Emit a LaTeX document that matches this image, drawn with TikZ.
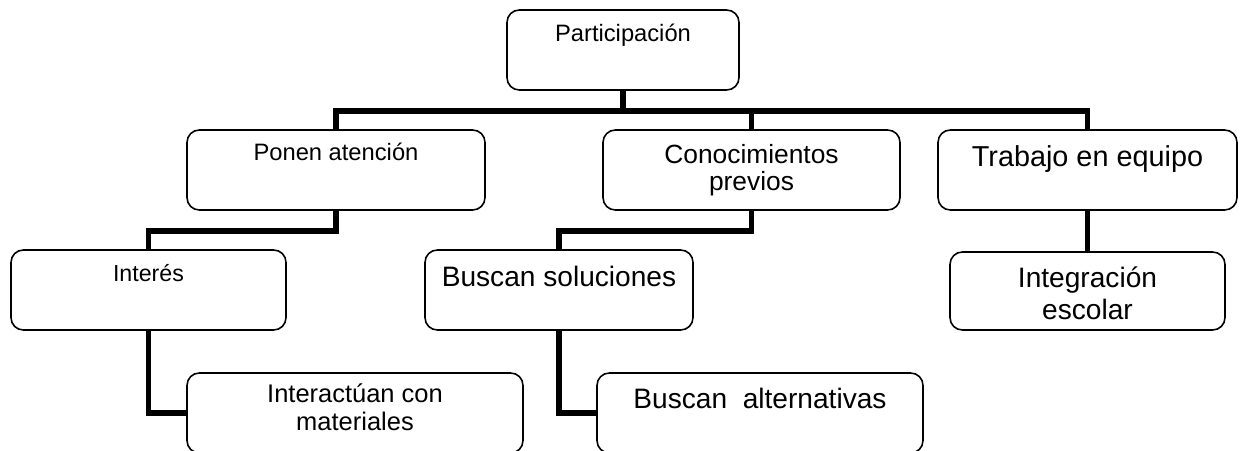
\documentclass[tikz,border=0pt]{standalone}
\usepackage{fontspec}
\setmainfont{Liberation Sans}

\begin{document}
\begin{tikzpicture}[
  x=0.02cm, y=-0.02cm,
  box/.style={rectangle, draw=black, line width=0.9pt, rounded corners=7pt, fill=white, minimum height=1.6cm, inner sep=0pt},
  conn/.style={draw=black, line width=3.4pt},
  txt/.style={anchor=base, align=center},
]
\useasboundingbox (0,0) rectangle (1241,450);

% Top
\node[box, minimum width=4.64cm, label={[txt, yshift=-0.64cm, font=\fontsize{13.5}{16}\selectfont]north:Participación}] (par) at (623,50) {};

% Second row
\node[box, minimum width=5.96cm, label={[txt, yshift=-0.634cm, font=\fontsize{13.5}{16}\selectfont]north:Ponen atención}] (pa) at (336,170) {};
\node[box, minimum width=5.94cm, label={[txt, yshift=-1.234cm, font=\fontsize{15}{15.7}\selectfont]north:Conocimientos\\previos}] (cp) at (751.5,170) {};
\node[box, minimum width=5.98cm, label={[txt, yshift=-0.746cm, font=\fontsize{16.4}{19}\selectfont]north:Trabajo en equipo}] (te) at (1087.5,170) {};

% Third row
\node[box, minimum width=5.5cm, label={[txt, yshift=-0.646cm, font=\fontsize{13.2}{16}\selectfont]north:Interés}] (int) at (148.5,290) {};
\node[box, minimum width=5.36cm, label={[txt, yshift=-0.746cm, font=\fontsize{16}{18}\selectfont]north:Buscan soluciones}] (bs) at (559,290) {};
\node[box, minimum width=5.5cm, minimum height=1.56cm, label={[txt, yshift=-1.36cm, font=\fontsize{16}{18}\selectfont]north:Integración\\escolar}] (ie) at (1087.5,291) {};

% Bottom row
\node[box, minimum width=6.72cm, label={[txt, yshift=-1.16cm, font=\fontsize{14.5}{16}\selectfont]north:Interactúan con\\materiales}] (im) at (355,413) {};
\node[box, minimum width=6.52cm, label={[txt, yshift=-0.726cm, font=\fontsize{16}{18}\selectfont]north:Buscan\ \ alternativas}] (ba) at (760,413) {};

% Connectors
\draw[conn] (par.south) -- ++(0,20) -| (pa.north);
\draw[conn] (par.south) -- ++(0,20) -| (cp.north);
\draw[conn] (par.south) -- ++(0,20) -| (te.north);
\draw[conn] (pa.south) -- ++(0,20) -| (int.north);
\draw[conn] (int.south) |- (im.west);
\draw[conn] (cp.south) -- ++(0,20) -| (bs.north);
\draw[conn] (bs.south) |- (ba.west);
\draw[conn] (te.south) -- (ie.north);

\end{tikzpicture}
\end{document}
